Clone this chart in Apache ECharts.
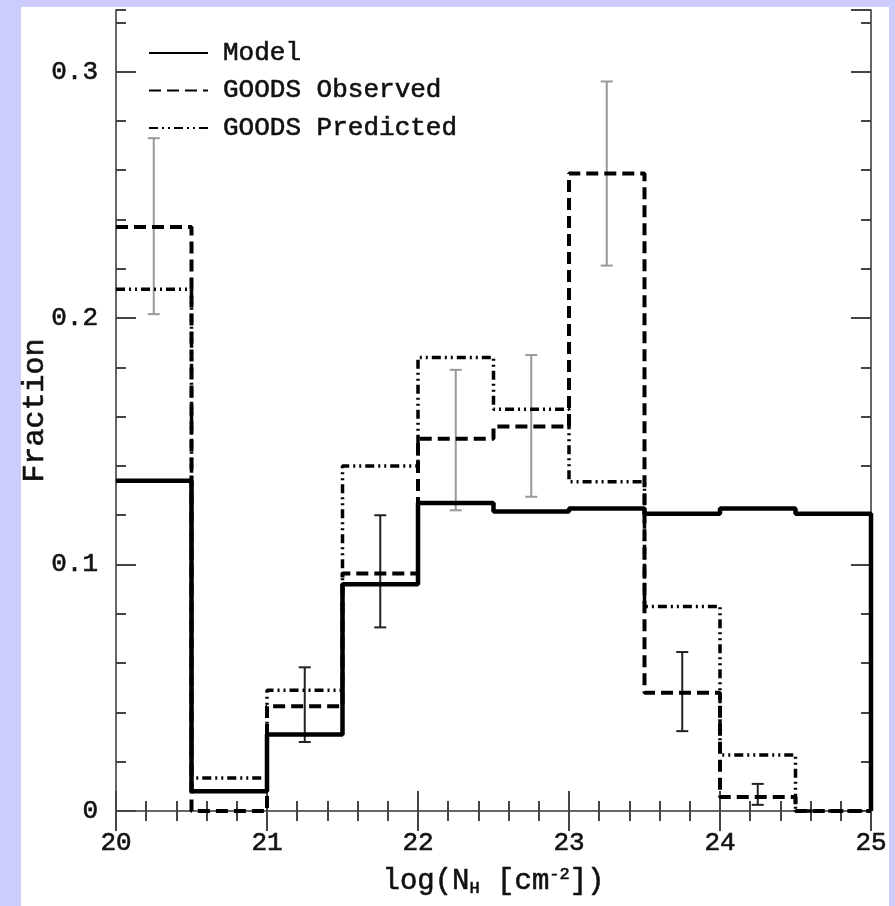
<!DOCTYPE html>
<html>
<head>
<meta charset="utf-8">
<script src="https://cdn.jsdelivr.net/npm/echarts@6/dist/echarts.min.js"></script>
<style>
  html, body { margin: 0; padding: 0; background: #cccdfd; }
  #chart { width: 895px; height: 906px; }
</style>
</head>
<body>
<div id="chart"></div>
<script>
// histogram bin edges, log(N_H)
const binEdges = [20, 20.5, 21, 21.5, 22, 22.5, 23, 23.5, 24, 24.5, 25];
const modelFrac = [0.134, 0.008, 0.031, 0.092, 0.125, 0.1215, 0.1227, 0.1206, 0.1227, 0.1206];
const observedFrac = [0.237, 0.0, 0.0425, 0.0964, 0.151, 0.156, 0.2587, 0.048, 0.0057, 0.0];
const predictedFrac = [0.2117, 0.0134, 0.049, 0.140, 0.184, 0.163, 0.1336, 0.083, 0.0227, 0.0];
// error bars on the observed histogram
const errX = [20.25, 21.25, 21.75, 22.25, 22.75, 23.25, 23.75, 24.25];
const errLow = [0.2016, 0.028, 0.0745, 0.122, 0.1275, 0.2213, 0.0324, 0.0025];
const errHigh = [0.273, 0.0583, 0.120, 0.179, 0.185, 0.296, 0.0645, 0.011];
const xTickLabels = ['20', '21', '22', '23', '24', '25'];
const yTickLabels = ['0', '0.1', '0.2', '0.3'];

const errColors = ['#999', '#222', '#222', '#999', '#999', '#999', '#222', '#222'];
const FONT = 'Liberation Mono';

function stepData(vals, dropToZero) {
  const pts = binEdges.map(function (e, i) {
    return [e, vals[Math.min(i, vals.length - 1)]];
  });
  if (dropToZero) pts.push([binEdges[binEdges.length - 1], 0]);
  return pts;
}

const chart = echarts.init(document.getElementById('chart'));

const tickCommon = { inside: true, length: 20, lineStyle: { color: '#444', width: 2 } };
const minorCommon = { inside: true, length: 10, lineStyle: { color: '#444', width: 2 } };
// slightly heavier strokes for the monospace text
const heavy = { textBorderColor: '#111', textBorderWidth: 0.6 };

let option = {
  animation: false,
  backgroundColor: 'transparent',
  graphic: [{
    type: 'rect', z: -10,
    shape: { x: 21, y: 7, width: 868, height: 899 },
    style: { fill: '#fff' }
  }],
  grid: { left: 116, right: 24, top: 10, bottom: 95 },
  legend: {
    orient: 'vertical',
    left: 143,
    top: 33,
    itemWidth: 59,
    itemHeight: 14,
    itemGap: 7.5,
    itemStyle: { opacity: 0 },
    data: ['Model', 'GOODS Observed', 'GOODS Predicted'],
    textStyle: Object.assign({ fontFamily: FONT, fontSize: 26, color: '#111', lineHeight: 30, padding: [0, 0, 0, 10] }, heavy)
  },
  xAxis: [
    {
      type: 'value', min: 20, max: 25, interval: 1, position: 'bottom',
      axisLine: { lineStyle: { color: '#111', width: 2 } },
      axisTick: tickCommon,
      minorTick: Object.assign({ show: true, splitNumber: 5 }, minorCommon),
      splitLine: { show: false },
      axisLabel: Object.assign({
        margin: 19, fontFamily: FONT, fontSize: 26, color: '#111',
        formatter: function (v) { return xTickLabels[Math.round(v - 20)]; }
      }, heavy),
      name: 'log(N{s|H} [cm{p|-2}])',
      nameLocation: 'middle',
      nameMoveOverlap: false,
      nameGap: 55,
      nameTextStyle: Object.assign({
        fontFamily: FONT, fontSize: 29, color: '#111',
        rich: {
          s: Object.assign({ fontFamily: FONT, fontSize: 17, color: '#111', verticalAlign: 'bottom', padding: [14, 0, 0, 0] }, heavy),
          p: Object.assign({ fontFamily: FONT, fontSize: 17, color: '#111', verticalAlign: 'top', padding: [0, 0, 12, 0] }, heavy)
        }
      }, heavy)
    },
    {
      type: 'value', min: 20, max: 25, interval: 1, position: 'top',
      axisLine: { lineStyle: { color: '#666', width: 2 } },
      axisTick: tickCommon,
      minorTick: Object.assign({ show: true, splitNumber: 5 }, minorCommon),
      splitLine: { show: false },
      axisLabel: { show: false }
    }
  ],
  yAxis: [
    {
      type: 'value', min: 0, max: 0.325, interval: 0.1, position: 'left',
      axisLine: { lineStyle: { color: '#666', width: 2 } },
      axisTick: tickCommon,
      splitLine: { show: false },
      axisLabel: Object.assign({
        margin: 18, fontFamily: FONT, fontSize: 26, color: '#111', showMaxLabel: false,
        formatter: function (v) { return yTickLabels[Math.round(v * 10)] || ''; }
      }, heavy),
      name: 'Fraction',
      nameLocation: 'middle',
      nameRotate: 90,
      nameMoveOverlap: false,
      nameGap: 66,
      nameTextStyle: Object.assign({ fontFamily: FONT, fontSize: 30, color: '#111' }, heavy)
    },
    {
      type: 'value', min: 0, max: 0.325, interval: 0.02, position: 'left',
      axisLine: { show: false },
      axisTick: minorCommon,
      splitLine: { show: false },
      axisLabel: { show: false }
    },
    {
      type: 'value', min: 0, max: 0.325, interval: 0.1, position: 'right',
      axisLine: { lineStyle: { color: '#666', width: 2 } },
      axisTick: tickCommon,
      splitLine: { show: false },
      axisLabel: { show: false }
    },
    {
      type: 'value', min: 0, max: 0.325, interval: 0.02, position: 'right',
      axisLine: { show: false },
      axisTick: minorCommon,
      splitLine: { show: false },
      axisLabel: { show: false }
    }
  ],
  series: [
    {
      type: 'custom',
      name: 'errors',
      z: 1,
      renderItem: function (params, api) {
        const x = api.value(0);
        const lo = api.coord([x, api.value(1)]);
        const hi = api.coord([x, api.value(2)]);
        const color = errColors[params.dataIndex];
        const cap = 6;
        const st = { stroke: color, lineWidth: 2 };
        return {
          type: 'group',
          children: [
            { type: 'line', shape: { x1: lo[0], y1: lo[1], x2: hi[0], y2: hi[1] }, style: st },
            { type: 'line', shape: { x1: lo[0] - cap, y1: lo[1], x2: lo[0] + cap, y2: lo[1] }, style: st },
            { type: 'line', shape: { x1: hi[0] - cap, y1: hi[1], x2: hi[0] + cap, y2: hi[1] }, style: st }
          ]
        };
      },
      encode: { x: 0, y: [1, 2] },
      data: errX.map(function (x, i) { return [x, errLow[i], errHigh[i]]; }),
      clip: false
    },
    {
      name: 'Model', type: 'line', step: 'end', symbol: 'none', clip: false, z: 4,
      lineStyle: { color: '#000', width: 4.5, type: 'solid' },
      itemStyle: { color: '#000' },
      data: stepData(modelFrac, true)
    },
    {
      name: 'GOODS Observed', type: 'line', step: 'end', symbol: 'none', clip: false, z: 3,
      lineStyle: { color: '#000', width: 4, type: [12, 6] },
      itemStyle: { color: '#000' },
      data: stepData(observedFrac, false)
    },
    {
      name: 'GOODS Predicted', type: 'line', step: 'end', symbol: 'none', clip: false, z: 3,
      lineStyle: { color: '#000', width: 3.5, type: [9, 4, 2, 4, 2, 4] },
      itemStyle: { color: '#000' },
      data: stepData(predictedFrac, false)
    }
  ]
};

chart.setOption(option);
window.onresize = function () {
  chart.resize();
};
</script>
</body>
</html>
